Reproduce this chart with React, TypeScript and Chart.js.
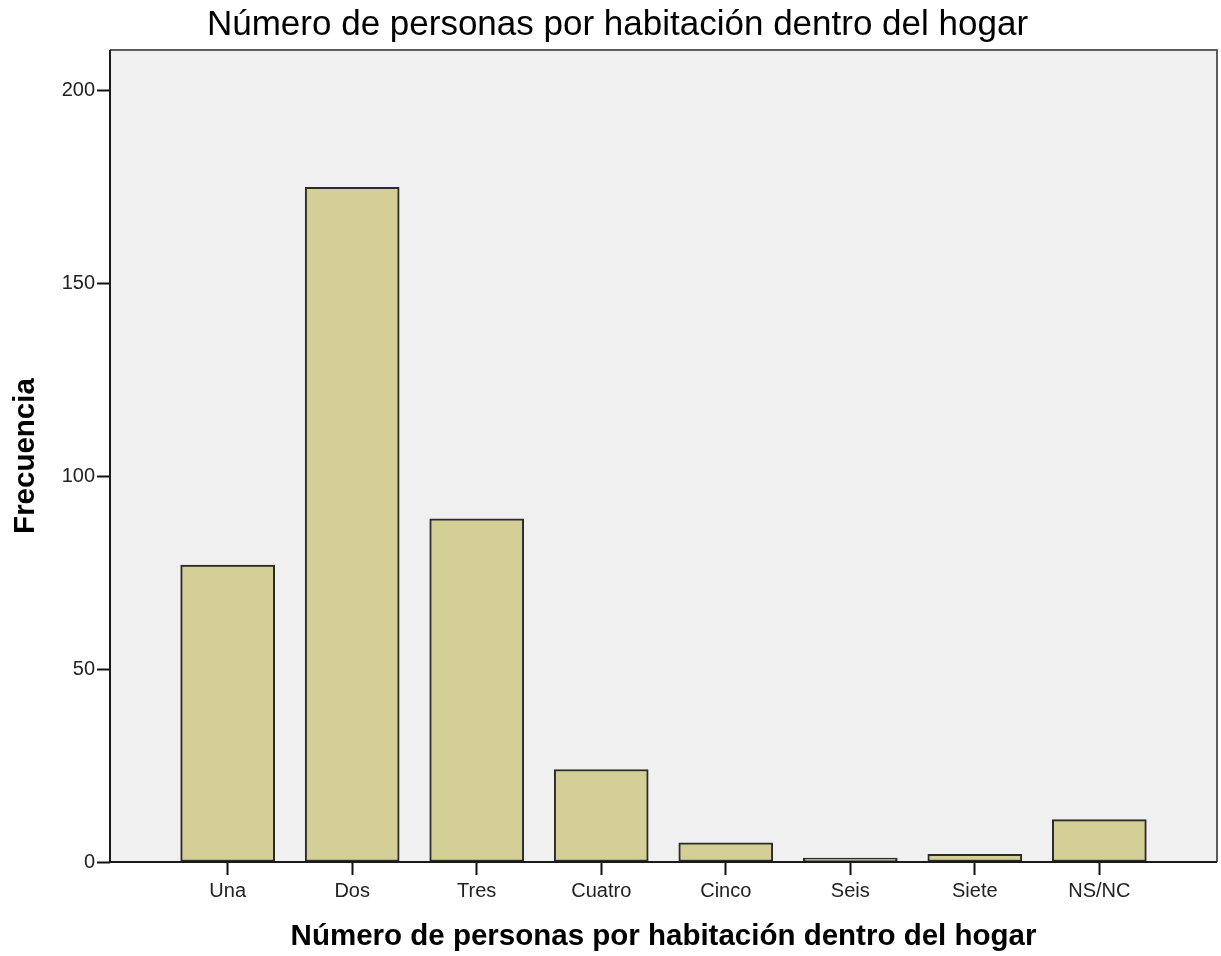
import React, { useEffect, useRef } from "react";
import { Chart, registerables } from "chart.js";

Chart.register(...registerables);

const categories = ["Una", "Dos", "Tres", "Cuatro", "Cinco", "Seis", "Siete", "NS/NC"];
const frequencies = [77, 175, 89, 24, 5, 1, 2, 11];
const yTickValues = [0, 50, 100, 150, 200];
const chartTitle = "Número de personas por habitación dentro del hogar";
const xAxisTitle = "Número de personas por habitación dentro del hogar";
const yAxisTitle = "Frecuencia";

const FONT = "'Liberation Sans', Arial, sans-serif";

export default function App() {
  const ref = useRef<HTMLCanvasElement>(null);

  useEffect(() => {
    const framePlugin = {
      id: "frame",
      beforeDraw(chart: any) {
        const { ctx, chartArea: a } = chart;
        ctx.save();
        ctx.fillStyle = "#f0f0f0";
        ctx.fillRect(a.left, a.top, a.right - a.left, a.bottom - a.top);
        ctx.restore();
      },
      afterDatasetsDraw(chart: any) {
        const { ctx, chartArea: a } = chart;
        ctx.save();
        ctx.lineWidth = 2;
        ctx.strokeStyle = "#5c5c5c";
        ctx.beginPath();
        ctx.moveTo(a.left, a.top);
        ctx.lineTo(a.right, a.top);
        ctx.lineTo(a.right, a.bottom);
        ctx.stroke();
        ctx.strokeStyle = "#1a1a1a";
        ctx.beginPath();
        ctx.moveTo(a.left, a.top);
        ctx.lineTo(a.left, a.bottom);
        ctx.lineTo(a.right, a.bottom);
        ctx.stroke();
        ctx.restore();
      },
    };

    const chart = new Chart(ref.current as HTMLCanvasElement, {
      type: "bar",
      data: {
        datasets: [
          {
            data: categories.map((c, i) => ({ x: i + 1, y: frequencies[i] })),
            backgroundColor: "#d3cf97",
            borderColor: "#2b2b2b",
            borderWidth: 2,
            borderSkipped: false,
            barThickness: 94,
          },
        ],
      },
      options: {
        animation: false,
        responsive: false,
        layout: { padding: { left: 18, right: 4, top: 0, bottom: 0 } },
        plugins: {
          legend: { display: false },
          tooltip: { enabled: false },
          title: {
            display: true,
            text: chartTitle,
            color: "#000",
            font: { family: FONT, size: 35, weight: "normal", lineHeight: 1.2 },
            padding: { top: 4, bottom: 4 },
          },
        },
        scales: {
          x: {
            type: "linear",
            min: 0.055,
            max: 8.945,
            offset: false,
            afterBuildTicks: (s: any) => {
              s.ticks = categories.map((_, i) => ({ value: i + 1 }));
            },
            afterFit: (s: any) => {
              s.height = 94;
            },
            ticks: {
              callback: (v: any) => categories[Math.round(Number(v)) - 1] ?? "",
              autoSkip: false,
              maxRotation: 0,
              color: "#222",
              font: { family: FONT, size: 20 },
              padding: 4,
            },
            grid: {
              offset: false,
              drawOnChartArea: false,
              drawTicks: true,
              tickLength: 13,
              tickColor: "#111",
              tickWidth: 2,
            },
            border: { display: false },
            title: {
              display: true,
              text: xAxisTitle,
              color: "#000",
              font: { family: FONT, size: 29.5, weight: "bold", lineHeight: 1.2 },
              padding: { top: 0, bottom: 1 },
            },
          },
          y: {
            type: "linear",
            min: 0,
            max: 210.6,
            afterBuildTicks: (s: any) => {
              s.ticks = yTickValues.map((v) => ({ value: v }));
            },
            afterFit: (s: any) => {
              s.width = 92;
            },
            ticks: {
              color: "#222",
              font: { family: FONT, size: 20 },
              padding: 2,
            },
            grid: {
              drawOnChartArea: false,
              drawTicks: true,
              tickLength: 13,
              tickColor: "#111",
              tickWidth: 2,
            },
            border: { display: false },
            title: {
              display: true,
              text: yAxisTitle,
              color: "#000",
              font: { family: FONT, size: 29.5, weight: "bold", lineHeight: 1.2 },
              padding: { top: -10, bottom: 0 },
            },
          },
        },
      },
      plugins: [framePlugin],
    } as any);

    return () => chart.destroy();
  }, []);

  return (
    <div style={{ position: "fixed", left: 0, top: 0, width: 1221, height: 956, background: "#fff" }}>
      <canvas ref={ref} width={1221} height={956} style={{ display: "block" }} />
    </div>
  );
}
